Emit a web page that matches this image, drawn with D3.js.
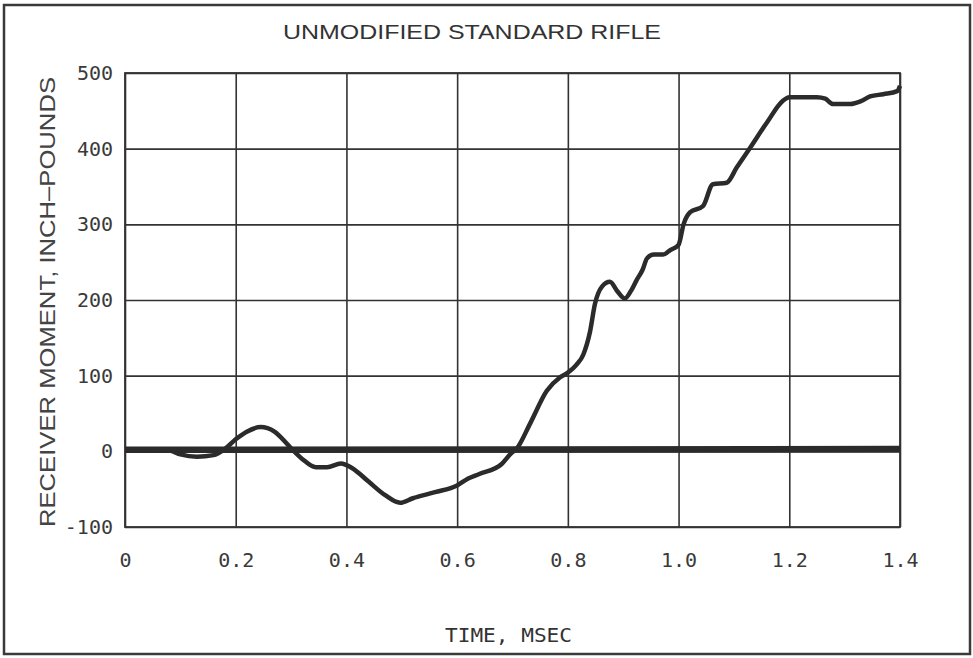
<!DOCTYPE html>
<html>
<head>
<meta charset="utf-8">
<script src="https://cdn.jsdelivr.net/npm/d3@7"></script>
<style>
  html, body { margin: 0; padding: 0; background: #fff; }
  svg { display: block; }
</style>
</head>
<body>
<div id="chart"></div>
<script>
// ── data ────────────────────────────────────────────────
const timeMs = [0, 0.05, 0.08, 0.10, 0.13, 0.16, 0.18, 0.20, 0.22, 0.245, 0.27, 0.29, 0.30, 0.32, 0.345,
  0.365, 0.39, 0.41, 0.44, 0.47, 0.497, 0.52, 0.56, 0.60, 0.62, 0.64, 0.68, 0.697, 0.708, 0.732, 0.762,
  0.786, 0.80, 0.815, 0.828, 0.84, 0.849, 0.862, 0.876, 0.889, 0.903, 0.914, 0.924, 0.935, 0.943, 0.955,
  0.972, 0.985, 1.0, 1.009, 1.021, 1.044, 1.062, 1.087, 1.105, 1.129, 1.16, 1.188, 1.2, 1.25, 1.265,
  1.279, 1.31, 1.33, 1.346, 1.37, 1.395, 1.4];
const moment = [2, 2, 1, -4, -7, -5, 3, 16, 26, 32, 26, 12, 4, -10, -21,
  -21, -16, -22, -40, -58, -68, -62, -54, -45, -36, -30, -17, -3, 4, 37, 80,
  98, 104, 114, 128, 158, 195, 218, 224, 212, 202, 212, 226, 240, 255, 260,
  260, 266, 273, 300, 316, 324, 353, 355, 375, 401, 435, 463, 468, 468, 466,
  459, 459, 463, 469, 472, 476, 483];

// reference trace (the heavy line near zero)
const baseTime   = [0, 1.4];
const baseMoment = [2, 3];

const xTicks = [0, 0.2, 0.4, 0.6, 0.8, 1.0, 1.2, 1.4];
const yTicks = [-100, 0, 100, 200, 300, 400, 500];

const titleText  = 'UNMODIFIED STANDARD RIFLE';
const xAxisTitle = 'TIME, MSEC';
const yAxisTitle = 'RECEIVER MOMENT, INCH\u2013POUNDS';

// ── layout ──────────────────────────────────────────────
const W = 973, H = 658;
const plot = { left: 125, top: 73, width: 775, height: 454 };
const ink = '#2b2b2b';

const svg = d3.select('#chart').append('svg')
  .attr('width', W)
  .attr('height', H);

svg.append('rect')
  .attr('x', 4).attr('y', 5)
  .attr('width', 966).attr('height', 649)
  .attr('fill', 'none')
  .attr('stroke', '#3a3a3a')
  .attr('stroke-width', 2.5);

const x = d3.scaleLinear().domain([0, 1.4]).range([0, plot.width]);
const y = d3.scaleLinear().domain([-100, 500]).range([plot.height, 0]);

const g = svg.append('g').attr('transform', `translate(${plot.left},${plot.top})`);

// grid + tick labels
const xAxis = g.append('g')
  .attr('transform', `translate(0,${plot.height})`)
  .call(d3.axisBottom(x).tickValues(xTicks).tickSize(-plot.height).tickPadding(26)
    .tickFormat(d => d === 0 ? '0' : d.toFixed(1)));

const yAxis = g.append('g')
  .call(d3.axisLeft(y).tickValues(yTicks).tickSize(-plot.width).tickPadding(12)
    .tickFormat(d => String(d)));

[xAxis, yAxis].forEach(ax => {
  ax.select('.domain').remove();
  ax.selectAll('.tick line').attr('stroke', '#333').attr('stroke-width', 1.6);
  ax.selectAll('.tick text')
    .attr('fill', '#3a3a3a')
    .style('font-family', '"DejaVu Sans Mono", monospace');
});
xAxis.selectAll('.tick text').style('font-size', '20px');
yAxis.selectAll('.tick text').style('font-size', '20px');

g.append('rect')
  .attr('width', plot.width)
  .attr('height', plot.height)
  .attr('fill', 'none')
  .attr('stroke', '#333')
  .attr('stroke-width', 1.8);

// traces
const line = d3.line()
  .x(d => x(d[0]))
  .y(d => y(d[1]));

g.append('path')
  .datum(d3.zip(baseTime, baseMoment))
  .attr('d', line)
  .attr('fill', 'none')
  .attr('stroke', ink)
  .attr('stroke-width', 6.5);

g.append('path')
  .datum(d3.zip(timeMs, moment))
  .attr('d', line.curve(d3.curveMonotoneX))
  .attr('fill', 'none')
  .attr('stroke', ink)
  .attr('stroke-width', 4.5)
  .attr('stroke-linejoin', 'round');

// titles
svg.append('text')
  .attr('x', 283).attr('y', 39)
  .attr('textLength', 378)
  .attr('lengthAdjust', 'spacingAndGlyphs')
  .attr('fill', '#333')
  .style('font-family', '"Liberation Sans", Arial, sans-serif')
  .style('font-size', '21px')
  .text(titleText);

svg.append('text')
  .attr('x', 445).attr('y', 642)
  .attr('textLength', 127)
  .attr('lengthAdjust', 'spacingAndGlyphs')
  .attr('fill', '#333')
  .style('font-family', '"DejaVu Sans Mono", monospace')
  .style('font-size', '19px')
  .text(xAxisTitle);

svg.append('text')
  .attr('transform', 'translate(55,527) rotate(-90)')
  .attr('textLength', 450)
  .attr('lengthAdjust', 'spacingAndGlyphs')
  .attr('fill', '#444')
  .style('font-family', '"Liberation Sans", Arial, sans-serif')
  .style('font-size', '22px')
  .text(yAxisTitle);
</script>
</body>
</html>
